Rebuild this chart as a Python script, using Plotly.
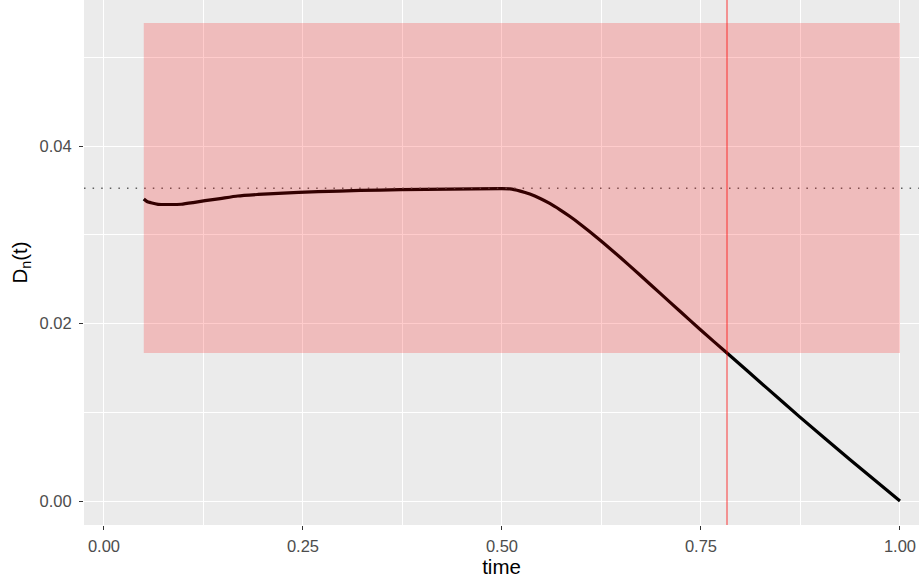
import plotly.graph_objects as go

# D_n(t) profile over time
time = [0.050, 0.054, 0.059, 0.068, 0.083, 0.097, 0.112, 0.127, 0.146, 0.168,
        0.1935, 0.219, 0.269, 0.322, 0.372, 0.435, 0.4975, 0.510, 0.523, 0.535,
        0.548, 0.560, 0.573, 0.585, 0.598, 0.623, 0.648, 0.673, 0.6985, 0.724,
        0.749, 0.7827, 0.8325, 0.874, 0.937, 1.000]
dn = [0.03403, 0.03375, 0.03361, 0.03343, 0.03341, 0.03344, 0.03362, 0.03384,
      0.03408, 0.03437, 0.03454, 0.03467, 0.03485, 0.03499, 0.03508, 0.03514,
      0.03519, 0.03517, 0.03492, 0.03458, 0.03409, 0.03353, 0.03281, 0.03208,
      0.03122, 0.02942, 0.02749, 0.02549, 0.02342, 0.02135, 0.01932, 0.01668,
      0.01275, 0.00948, 0.00468, 0.0]

# band, reference level and crossing time
band_x = [0.05, 1.00]
band_y = [0.01668, 0.05386]
ref_level = 0.03524
cross_time = 0.7827

x_ticks = [0.00, 0.25, 0.50, 0.75, 1.00]
x_labels = ["0.00", "0.25", "0.50", "0.75", "1.00"]
y_ticks = [0.00, 0.02, 0.04]
y_labels = ["0.00", "0.02", "0.04"]

fig = go.Figure()
fig.add_trace(go.Scatter(
    x=time, y=dn, mode="lines",
    line=dict(color="black", width=3.2, shape="spline", smoothing=0.6),
    showlegend=False, hoverinfo="skip",
))

fig.add_shape(type="line", xref="paper", yref="y", x0=0, x1=1,
              y0=ref_level, y1=ref_level, layer="above",
              line=dict(color="rgba(70,70,70,0.85)", width=1.3, dash="1.5px,7.1px"))
fig.add_shape(type="rect", xref="x", yref="y",
              x0=band_x[0], x1=band_x[1], y0=band_y[0], y1=band_y[1],
              fillcolor="rgba(255,0,0,0.2)", line=dict(width=0), layer="above")
fig.add_shape(type="line", xref="x", yref="paper", x0=cross_time, x1=cross_time,
              y0=0, y1=1, layer="above",
              line=dict(color="rgba(255,0,0,0.55)", width=1.4))

axis_font = dict(family="Liberation Sans, Arial, sans-serif", size=16.5, color="#4D4D4D")
title_font = dict(family="Liberation Sans, Arial, sans-serif", size=20.5, color="black")

fig.update_layout(
    width=919, height=582,
    margin=dict(l=84, r=0, t=0, b=57),
    paper_bgcolor="white", plot_bgcolor="#EBEBEB",
    xaxis=dict(
        range=[-0.0251, 1.0239], tickvals=x_ticks, ticktext=x_labels,
        showgrid=True, gridcolor="white", gridwidth=1.4,
        minor=dict(dtick=0.125, tick0=0.125, showgrid=True, gridcolor="white", gridwidth=0.7),
        zeroline=False, showline=False,
        ticks="outside", ticklen=4, tickwidth=1.1, tickcolor="#333333",
        tickfont=axis_font, ticklabelstandoff=2,
        title=dict(text="time", font=title_font, standoff=2),
    ),
    yaxis=dict(
        range=[-0.0027, 0.05645], tickvals=y_ticks, ticktext=y_labels,
        showgrid=True, gridcolor="white", gridwidth=1.4,
        minor=dict(dtick=0.01, tick0=0.01, showgrid=True, gridcolor="white", gridwidth=0.7),
        zeroline=False, showline=False,
        ticks="outside", ticklen=4, tickwidth=1.1, tickcolor="#333333",
        tickfont=axis_font, ticklabelstandoff=4,
        title=dict(text="D<sub>n</sub>(t)", font=title_font, standoff=6),
    ),
)

fig.write_html("out.html")
